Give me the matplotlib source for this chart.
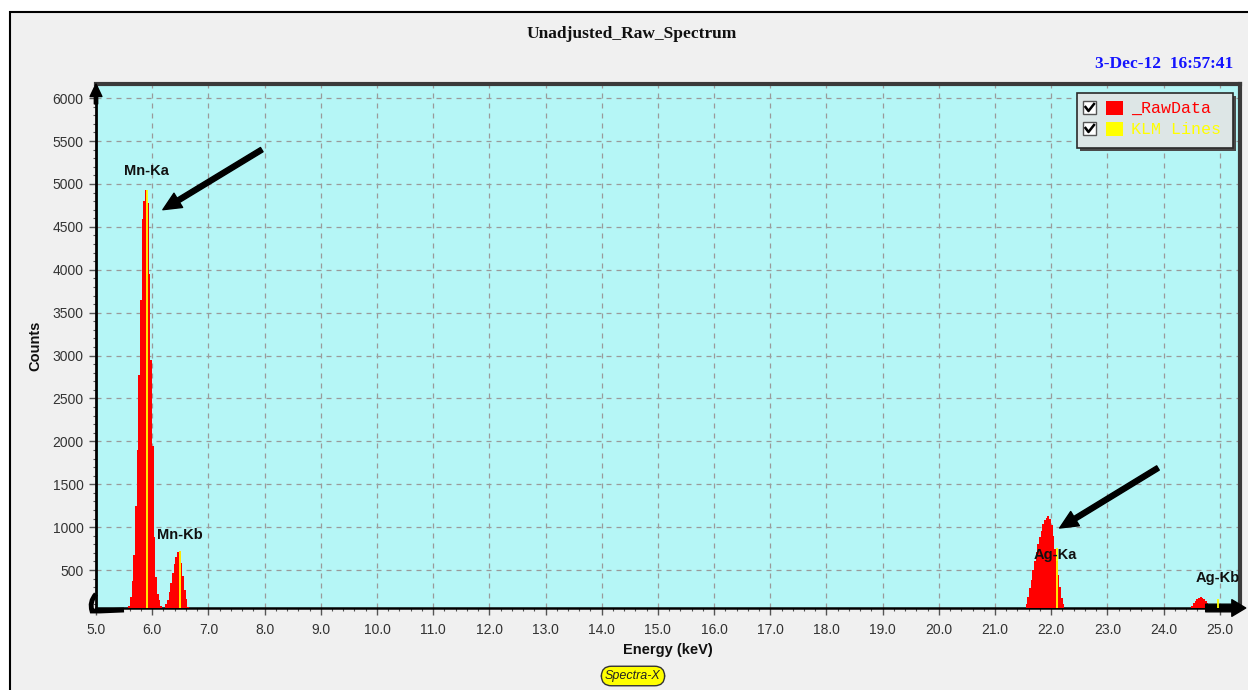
#!/usr/bin/env python3
"""Unadjusted raw XRF spectrum (Mn / Ag) - recreated screen capture."""
import matplotlib
matplotlib.use('Agg')
import matplotlib.pyplot as plt
from matplotlib.patches import Rectangle, PathPatch
from matplotlib.path import Path
from matplotlib.lines import Line2D
from matplotlib.ticker import MultipleLocator, FormatStrFormatter

W, H = 1248, 690
PANEL, PLOT_BG, GRID = '#f0f0f0', '#b5f6f6', '#9a9a9a'
TXT, DARK = '#333333', '#3a3a3a'
RED, YELLOW, BLUE = '#ff0000', '#ffff00', '#1414ff'
CH = 0.03  # channel width, keV

MN_E = [5.53, 5.56, 5.59, 5.62, 5.65, 5.68, 5.71, 5.74, 5.77, 5.80,
        5.83, 5.86, 5.89, 5.92, 5.95, 5.98, 6.01, 6.04, 6.07, 6.10,
        6.13, 6.16, 6.19, 6.22,
        6.25, 6.28, 6.31, 6.34, 6.37, 6.40, 6.43, 6.46, 6.49, 6.52,
        6.55, 6.58, 6.61, 6.64, 6.67, 6.70]
MN_C = [10, 30, 80, 190, 370, 680, 1250, 1900, 2770, 3650,
        4590, 4800, 4930, 4780, 3950, 2950, 1950, 880, 420, 220,
        150, 80, 55, 60,
        100, 150, 250, 350, 470, 570, 650, 710, 725, 580,
        430, 270, 160, 75, 30, 8]
AGA_E = [21.50, 21.53, 21.56, 21.59, 21.62, 21.65, 21.68, 21.71, 21.74,
         21.77, 21.80, 21.83, 21.86, 21.89, 21.92, 21.95, 21.98, 22.01,
         22.04, 22.07, 22.10, 22.13, 22.16, 22.19, 22.22, 22.25, 22.28]
AGA_C = [30, 60, 110, 190, 290, 380, 500, 600, 710,
         800, 890, 960, 1040, 1080, 1110, 1130, 1100, 1030,
         900, 750, 600, 440, 300, 180, 100, 50, 20]
AGB_E = [24.45, 24.48, 24.51, 24.54, 24.57, 24.60, 24.63, 24.66,
         24.69, 24.72, 24.75, 24.78, 24.81, 24.84, 24.87, 24.90]
AGB_C = [20, 50, 85, 115, 140, 160, 170, 185,
         180, 165, 140, 115, 85, 55, 30, 15]

# KLM marker lines
KLM_NAME = ['Mn-Ka', 'Mn-Kb', 'Ag-Ka', 'Ag-Kb']
KLM_E = [5.90, 6.49, 22.10, 24.97]
KLM_H = [4930, 725, 760, 160]
LABEL_XY = [(5.90, 5150), (6.49, 910), (22.08, 680), (24.97, 410)]
ARROWS = [((7.95, 5400), (6.19, 4700)), ((23.90, 1690), (22.15, 990))]

X_LIM = (5.0, 25.36)
Y_LIM = (58, 6165)


def px(x, y, w=0, h=0):
    """pixel box (top-left origin) -> figure fraction (x, y_bottom, w, h)"""
    return x / W, 1 - (y + h) / H, w / W, h / H


def frect(fig, x, y, w, h, **kw):
    fx, fy, fw, fh = px(x, y, w, h)
    r = Rectangle((fx, fy), fw, fh, transform=fig.transFigure, **kw)
    fig.add_artist(r)
    return r


fig = plt.figure(figsize=(W / 100, H / 100), dpi=100, facecolor='white')

# grey window panel with black frame
frect(fig, 10, 12, 1260, 700, facecolor=PANEL, edgecolor='black', lw=1.5, zorder=0)

fig.text(632 / W, 1 - 34 / H, 'Unadjusted_Raw_Spectrum', ha='center', va='center',
         family='Liberation Serif', fontweight='bold', fontsize=12.5, color='#111111')
fig.text(1233 / W, 1 - 64 / H, '3-Dec-12  16:57:41', ha='right', va='center',
         family='Liberation Serif', fontweight='bold', fontsize=12.5, color=BLUE)

ax = fig.add_axes([96 / W, 1 - 608 / H, (1240 - 96) / W, (608 - 84) / H])
ax.set_facecolor(PLOT_BG)
ax.set_xlim(*X_LIM)
ax.set_ylim(*Y_LIM)

for e, c in ((MN_E, MN_C), (AGA_E, AGA_C), (AGB_E, AGB_C)):
    ax.bar(e, c, width=CH * 1.08, color=RED, lw=0, antialiased=False, zorder=3)
ax.vlines(KLM_E, 0, KLM_H, color=YELLOW, lw=1.3, zorder=4)

for name, (x, y) in zip(KLM_NAME, LABEL_XY):
    ax.text(x, y, name, ha='center', va='center', fontsize=10.5,
            fontweight='bold', family='Liberation Sans', color='#111111', zorder=6)

for start, end in ARROWS:
    ax.annotate('', xy=end, xytext=start, zorder=7,
                arrowprops=dict(facecolor='black', edgecolor='black', width=3.6,
                                headwidth=12, headlength=13, shrink=0))

ax.xaxis.set_major_locator(MultipleLocator(1.0))
ax.xaxis.set_minor_locator(MultipleLocator(0.2))
ax.xaxis.set_major_formatter(FormatStrFormatter('%.1f'))
ax.yaxis.set_major_locator(MultipleLocator(500))
ax.yaxis.set_minor_locator(MultipleLocator(100))
ax.tick_params(which='major', direction='out', length=5, width=1, color='#555555',
               labelsize=10, labelcolor=TXT, pad=4)
ax.tick_params(which='minor', direction='out', length=2.5, width=0.8, color='#555555')
ax.tick_params(axis='x', which='major', pad=6)
for lab in ax.get_xticklabels() + ax.get_yticklabels():
    lab.set_family('Liberation Sans')
ax.grid(True, which='major', color=GRID, ls=(0, (4, 4)), lw=0.9, zorder=1)
ax.set_axisbelow(True)

ax.spines['left'].set_color('black')
ax.spines['left'].set_linewidth(2)
ax.spines['bottom'].set_color('black')
ax.spines['bottom'].set_linewidth(1.8)
for s in ('top', 'right'):
    ax.spines[s].set_color(DARK)
    ax.spines[s].set_linewidth(3)

ax.set_ylabel('Counts', fontsize=10.5, fontweight='bold', family='Liberation Sans',
              color='#111111')
ax.set_xlabel('Energy (keV)', fontsize=10.5, fontweight='bold', family='Liberation Sans',
              color='#111111', labelpad=4)
ax.yaxis.set_label_coords(-0.047, 0.5)

# axis arrows
ax.annotate('', xy=(0, 1.0), xytext=(0, 0.962), xycoords='axes fraction',
            arrowprops=dict(facecolor='black', edgecolor='black', width=2.4,
                            headwidth=8.5, headlength=9, shrink=0), annotation_clip=False)
ax.annotate('', xy=(1.005, 0), xytext=(0.97, 0), xycoords='axes fraction',
            arrowprops=dict(facecolor='black', edgecolor='black', width=5.5,
                            headwidth=12, headlength=10, shrink=0), annotation_clip=False)

# curled corner marker bottom-left
corner = [px(96, 594)[:2], px(89, 602)[:2], px(92, 611)[:2], px(100, 611)[:2], px(124, 610)[:2]]
codes = [Path.MOVETO, Path.CURVE3, Path.CURVE3, Path.LINETO, Path.LINETO]
fig.add_artist(PathPatch(Path(corner, codes), transform=fig.transFigure, fill=False,
                         lw=3.5, edgecolor='black', zorder=10))

# legend box
frect(fig, 1080, 96, 156, 55, facecolor='#4a4a4a', edgecolor='none', zorder=10)
frect(fig, 1077, 93, 156, 55, facecolor='#dde6e6', edgecolor='#2a2a2a', lw=1.2, zorder=11)
for i, (label, col) in enumerate((('_RawData', RED), ('KLM Lines', YELLOW))):
    y0 = 101 + 21 * i
    frect(fig, 1083, y0, 13, 13, facecolor='white', edgecolor='#555555', lw=1, zorder=12)
    tick_x = [1085.5 / W, 1088.5 / W, 1094 / W]
    tick_y = [1 - (y0 + 6) / H, 1 - (y0 + 10) / H, 1 - (y0 + 3) / H]
    fig.add_artist(Line2D(tick_x, tick_y, color='black', lw=1.8, transform=fig.transFigure,
                          zorder=13))
    frect(fig, 1106, y0, 17, 14, facecolor=col, edgecolor='none', zorder=12)
    fig.text(1131 / W, 1 - (y0 + 7) / H, label, ha='left', va='center', color=col,
             family='Liberation Mono', fontsize=12, zorder=13)

fig.text(633 / W, 1 - 676 / H, 'Spectra-X', ha='center', va='center', style='italic',
         fontsize=9, family='Liberation Sans', color='#222222',
         bbox=dict(boxstyle='round,pad=0.3,rounding_size=0.8', facecolor=YELLOW,
                   edgecolor='#333333', lw=1))

fig.savefig('out.png', dpi=100, facecolor='white')
